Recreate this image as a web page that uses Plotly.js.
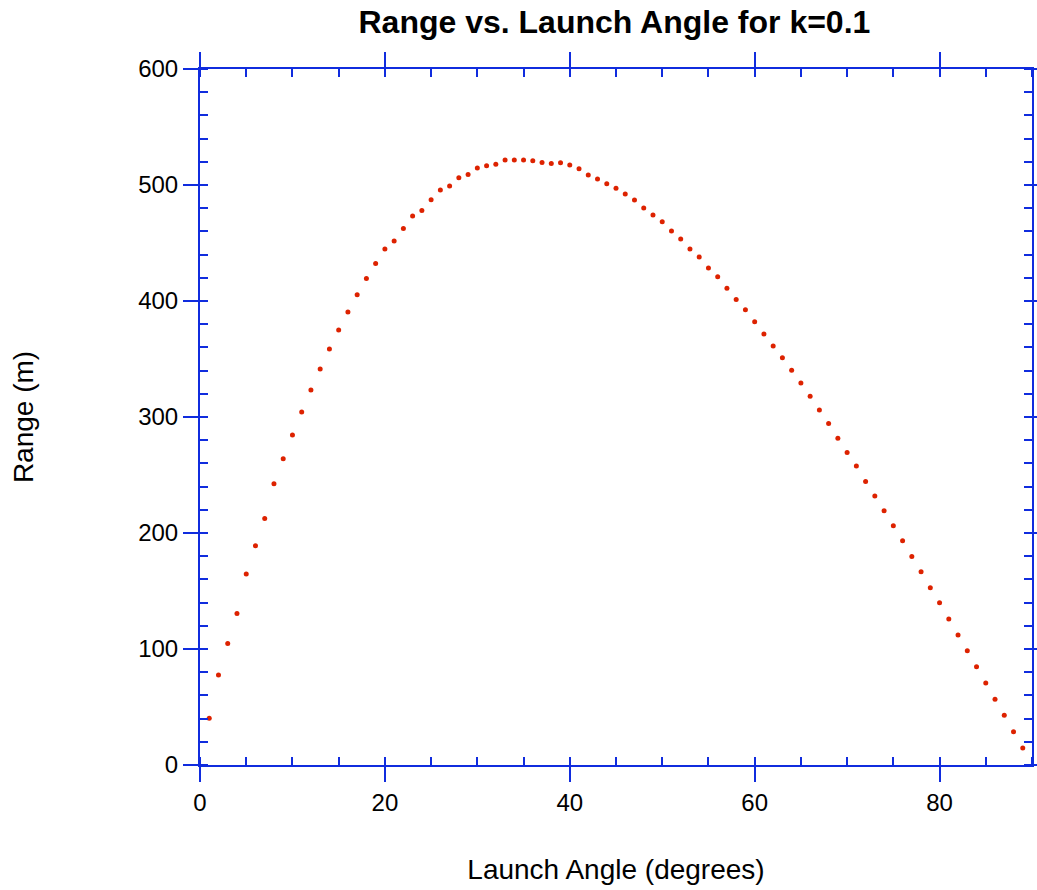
<!DOCTYPE html>
<html>
<head>
<meta charset="utf-8">
<script src="https://cdn.plot.ly/plotly-3.0.1.min.js"></script>
<style>
  html, body { margin: 0; padding: 0; background: #ffffff; }
  #chart { width: 1037px; height: 890px; }
</style>
</head>
<body>
<div id="chart"></div>
<script>
// Launch angles in degrees (1..89)
const angles = [
  1, 2, 3, 4, 5, 6, 7, 8, 9, 10,
  11, 12, 13, 14, 15, 16, 17, 18, 19, 20,
  21, 22, 23, 24, 25, 26, 27, 28, 29, 30,
  31, 32, 33, 34, 35, 36, 37, 38, 39, 40,
  41, 42, 43, 44, 45, 46, 47, 48, 49, 50,
  51, 52, 53, 54, 55, 56, 57, 58, 59, 60,
  61, 62, 63, 64, 65, 66, 67, 68, 69, 70,
  71, 72, 73, 74, 75, 76, 77, 78, 79, 80,
  81, 82, 83, 84, 85, 86, 87, 88, 89
];

// Horizontal range (m) for drag coefficient k = 0.1
const ranges = [
  40.2, 77.6, 104.8, 130.7, 164.6, 189.0, 212.6, 242.5, 264.1, 284.5,
  304.3, 323.3, 341.4, 358.6, 375.0, 390.5, 405.4, 419.5, 432.4, 444.8,
  451.7, 462.6, 473.3, 478.1, 487.3, 495.7, 499.1, 506.2, 509.1, 514.7,
  516.6, 517.8, 521.6, 521.6, 521.6, 521.0, 519.5, 518.6, 519.2, 517.2,
  514.0, 508.6, 505.2, 501.1, 497.1, 492.2, 487.1, 480.2, 474.1, 468.4,
  460.3, 453.4, 444.8, 437.9, 428.4, 420.9, 410.9, 401.3, 392.5, 382.1,
  371.6, 361.2, 351.1, 340.2, 329.3, 317.8, 306.0, 294.5, 281.6, 269.5,
  257.8, 244.5, 231.9, 219.2, 206.3, 193.3, 179.8, 166.6, 152.8, 139.9,
  125.9, 112.1, 98.5, 84.7, 70.7, 56.6, 42.8, 28.7, 14.7
];

const axisBlue = 'rgb(16,44,222)';
const fontFamily = 'Liberation Sans, Arial, sans-serif';
const tickFont = { family: fontFamily, size: 24, color: '#000000' };
const axisTitleFont = { family: fontFamily, size: 28, color: '#000000' };

function axisStyle(extra) {
  return Object.assign({
    showline: true,
    linecolor: axisBlue,
    linewidth: 2,
    mirror: 'ticks',
    ticks: 'outside',
    ticklen: 15,
    tickwidth: 2,
    tickcolor: axisBlue,
    showgrid: false,
    zeroline: false,
    tickfont: tickFont
  }, extra);
}

const trace = {
  x: angles,
  y: ranges,
  type: 'scatter',
  mode: 'markers',
  marker: { color: '#dd2200', size: 5 },
  showlegend: false,
  hoverinfo: 'x+y'
};

const layout = {
  width: 1037,
  height: 890,
  margin: { l: 200, r: 5, t: 69, b: 125 },
  paper_bgcolor: '#ffffff',
  plot_bgcolor: '#ffffff',
  title: {
    text: '<b>Range vs. Launch Angle for k=0.1</b>',
    font: { family: fontFamily, size: 32, color: '#000000' },
    x: 0.5925,
    xanchor: 'center',
    y: 0.975,
    yanchor: 'middle'
  },
  xaxis: axisStyle({
    range: [0, 90],
    tick0: 0,
    dtick: 20,
    minor: { dtick: 5, ticks: 'inside', ticklen: 8, tickwidth: 2, tickcolor: axisBlue, showgrid: false },
    title: { text: 'Launch Angle (degrees)', font: axisTitleFont, standoff: 45 }
  }),
  yaxis: axisStyle({
    range: [0, 600],
    tick0: 0,
    dtick: 100,
    minor: { dtick: 20, ticks: 'inside', ticklen: 8, tickwidth: 2, tickcolor: axisBlue, showgrid: false },
    title: { text: 'Range (m)', font: axisTitleFont, standoff: 96 }
  })
};

Plotly.newPlot('chart', [trace], layout, { displayModeBar: false, staticPlot: true });
</script>
</body>
</html>
